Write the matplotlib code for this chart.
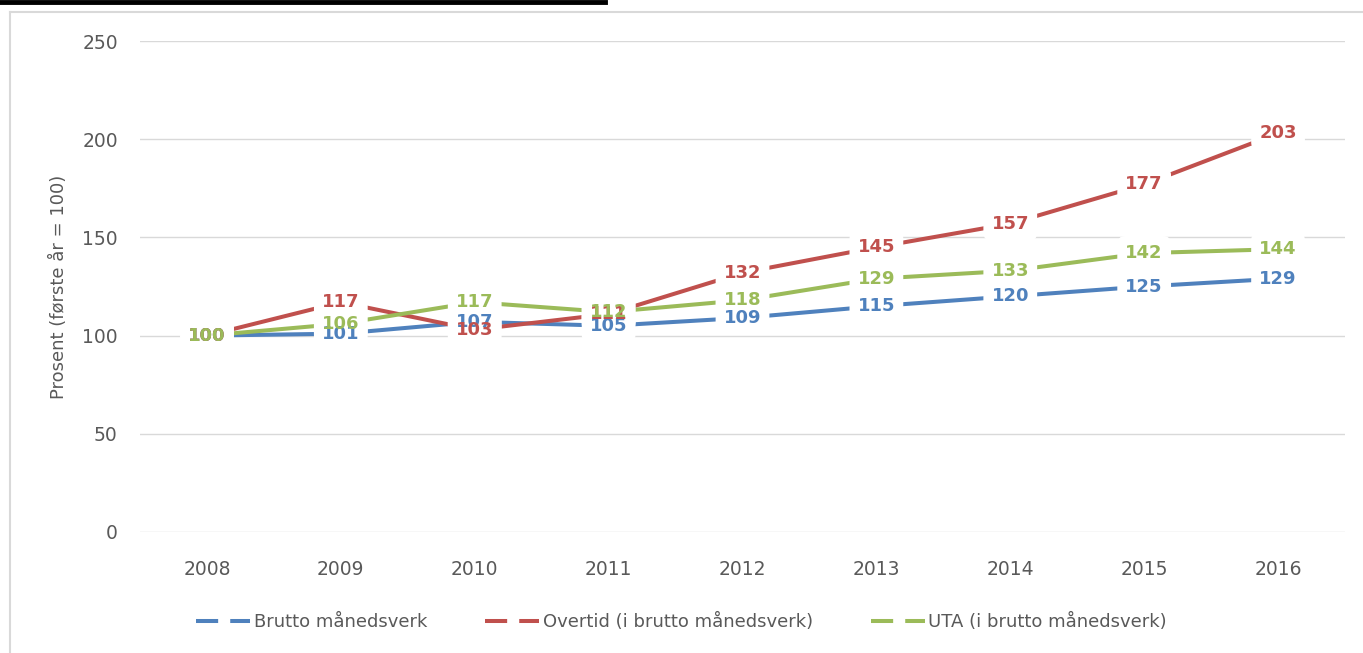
import matplotlib
matplotlib.use("Agg")
import matplotlib.pyplot as plt
from matplotlib.lines import Line2D

# data
years = ["2008", "2009", "2010", "2011", "2012", "2013", "2014", "2015", "2016"]
brutto = [100, 101, 107, 105, 109, 115, 120, 125, 129]
overtid = [100, 117, 103, 111, 132, 145, 157, 177, 203]
uta = [100, 106, 117, 112, 118, 129, 133, 142, 144]
series_names = ["Brutto månedsverk", "Overtid (i brutto månedsverk)", "UTA (i brutto månedsverk)"]
y_ticks = [0, 50, 100, 150, 200, 250]

colors = ["#4F81BD", "#C0504D", "#9BBB59"]
grey_txt = "#595959"
grid_col = "#D9D9D9"

plt.rcParams['font.family'] = ['DejaVu Sans']

fig = plt.figure(figsize=(13.63, 6.53), dpi=100)
ax = fig.add_axes([0.1027, 0.1853, 0.8841, 0.7519])

x = list(range(len(years)))
all_series = [brutto, overtid, uta]

for vals, col in zip(all_series, colors):
    ax.plot(x, vals, color=col, lw=2.9, solid_capstyle='round', zorder=3)

# white label backgrounds first, then the coloured numbers on top
for vals in all_series:
    for xi, v in zip(x, vals):
        ax.text(xi, v, str(v), ha='center', va='center', fontsize=13,
                fontweight='bold', color='none', zorder=4,
                bbox=dict(boxstyle='round,pad=0.45', fc='white', ec='none'))
for vals, col in zip(all_series, colors):
    for xi, v in zip(x, vals):
        ax.text(xi, v, str(v), ha='center', va='center', fontsize=13,
                fontweight='bold', color=col, zorder=5)

ax.set_xlim(-0.5, len(years) - 0.5)
ax.set_ylim(0, 250)
ax.set_yticks(y_ticks)
ax.set_xticks(x)
ax.set_xticklabels(years)
ax.tick_params(axis='both', length=0, labelsize=13.5, colors=grey_txt)
ax.tick_params(axis='y', pad=16)
ax.tick_params(axis='x', pad=20)
ax.grid(axis='y', color=grid_col, lw=1)
ax.set_axisbelow(True)
for s in ax.spines.values():
    s.set_visible(False)

ax.set_ylabel("Prosent (første år = 100)", fontsize=13, color=grey_txt, labelpad=10)

handles = [Line2D([0], [0], color=c, lw=2.9, linestyle=(0, (5.5, 3))) for c in colors]
fig.legend(handles, series_names, loc='center', bbox_to_anchor=(0.5, 0.047), ncol=3,
           frameon=False, fontsize=13, labelcolor=grey_txt, handlelength=3.0,
           handletextpad=0.2, columnspacing=3.2)

# outer frame and top bar as in the screenshot
fig.add_artist(Line2D([0, 605 / 1363], [1 - 1.5 / 653] * 2, color='black', lw=3.5,
                      transform=fig.transFigure))
fig.add_artist(Line2D([10 / 1363, 1.0], [1 - 12 / 653] * 2, color='#D9D9D9', lw=1.5,
                      transform=fig.transFigure))
fig.add_artist(Line2D([10 / 1363] * 2, [0, 1 - 12 / 653], color='#D9D9D9', lw=1.5,
                      transform=fig.transFigure))

fig.savefig("out.png", dpi=100, facecolor='white')
